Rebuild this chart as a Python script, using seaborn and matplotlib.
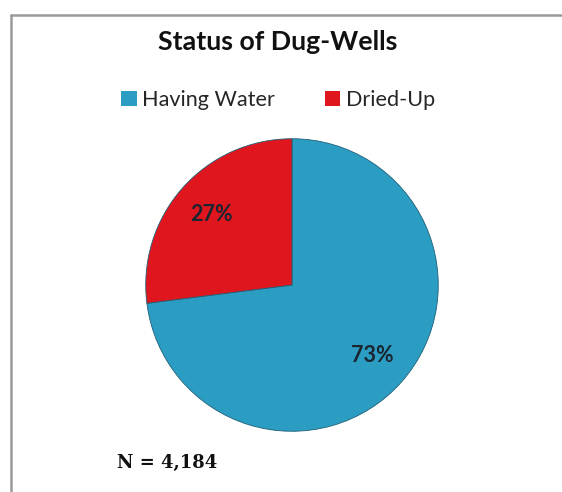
import matplotlib
matplotlib.use("Agg")
import matplotlib.pyplot as plt
import seaborn as sns
from matplotlib.patches import Patch
from matplotlib.lines import Line2D

categories = ["Having Water", "Dried-Up"]
shares = [73, 27]
colors = ["#2C9DC2", "#E0161F"]
title = "Status of Dug-Wells"
note = "N = 4,184"

sns.set_theme(style="white")
plt.rcParams["font.family"] = ["Lato", "DejaVu Sans"]

fig = plt.figure(figsize=(5.62, 4.92), dpi=100)
fig.patch.set_facecolor("white")

# chart frame: left and top edges only
fig.add_artist(Line2D([10.5 / 562, 10.5 / 562], [0, 1 - 15 / 492],
                      color="#9a9a9a", lw=1.8, transform=fig.transFigure))
fig.add_artist(Line2D([10.5 / 562, 1], [1 - 15 / 492, 1 - 15 / 492],
                      color="#9a9a9a", lw=1.8, transform=fig.transFigure))

ax = fig.add_axes([145 / 562, 60 / 492, 294 / 562, 294 / 492])
wedges, texts, autotexts = ax.pie(
    shares, colors=colors, startangle=90, counterclock=False,
    autopct=lambda p: f"{p:.0f}%", pctdistance=0.73,
    wedgeprops=dict(edgecolor="#1f5f78", linewidth=0.6),
    textprops=dict(fontsize=15.5, color="#1b2530", fontweight="bold"),
)
ax.set_xlim(-1.005, 1.005)
ax.set_ylim(-1.005, 1.005)
ax.set_aspect("equal")

fig.text(278 / 562, 1 - 42 / 492, title, ha="center", va="center",
         fontsize=19.3, fontweight="bold", color="#111111")

handles = [Patch(facecolor=c, edgecolor="none") for c in colors]
fig.legend(handles, categories, loc="center", bbox_to_anchor=(278 / 562, 1 - 100 / 492),
           ncol=2, frameon=False, fontsize=15.6, handlelength=0.72, handleheight=0.72,
           handletextpad=0.25, columnspacing=2.3)

fig.text(117 / 562, 1 - 463 / 492, note, ha="left", va="center",
         fontsize=13, fontweight="bold", family="DejaVu Serif", color="#111111")

fig.savefig("out.png", dpi=100, facecolor="white")
